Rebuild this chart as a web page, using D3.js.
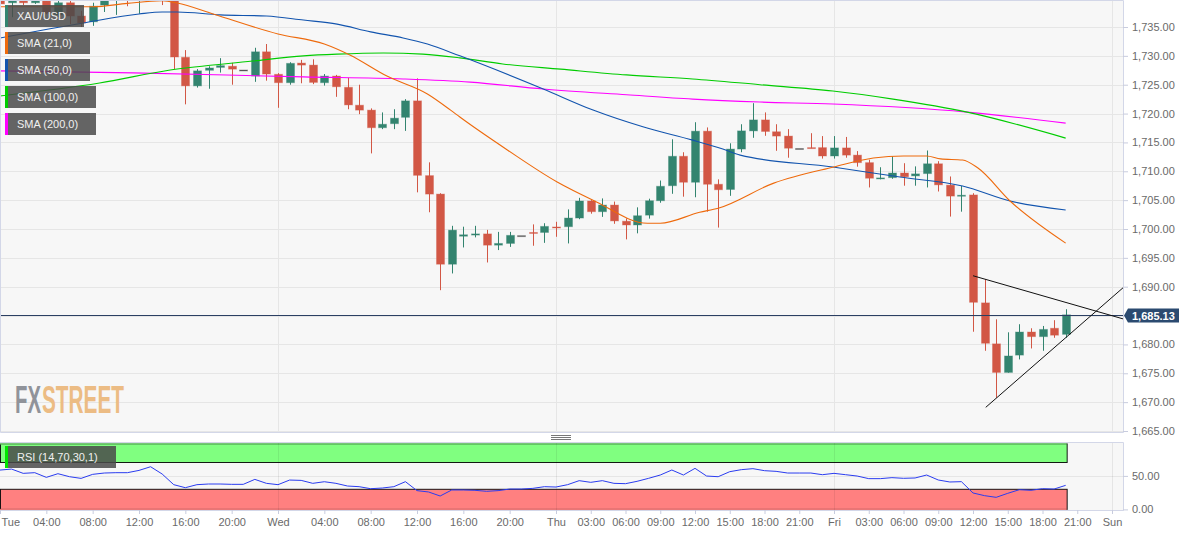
<!DOCTYPE html>
<html>
<head>
<meta charset="utf-8">
<script src="https://d3js.org/d3.v7.min.js"></script>
<style>
body { margin: 0; background: #fff; }
text { font-family: "Liberation Sans", Arial, sans-serif; font-size: 11px; }
</style>
</head>
<body>
<svg id="chart" width="1194" height="536"></svg>
<script>
// hourly candles, index 0 = Tue 00:00
var opens = [1739.7,1739.2,1739.7,1739.2,1739.5,1737.1,1739.2,1736.9,1735.9,1738.8,1739.9,1740.7,1740.0,1740.4,1740.7,1740.2,
	1729.75,1724.8,1727.5,1728.0,1728.2,1727.55,1726.5,1730.7,1726.8,1725.35,1728.75,1728.4,1725.35,1726.5,1724.55,1721.45,
	1720.6,1717.55,1718.25,1719.35,1722.2,1709.25,1706.05,1693.9,1698.75,1698.95,1699.15,1697.2,1697.5,1698.85,1699.4,1699.4,
	1700.35,1700.4,1701.9,1704.85,1703.0,1704.15,1701.35,1700.7,1702.4,1704.9,1707.5,1712.6,1708.1,1716.95,1707.75,1706.85,
	1713.85,1717.0,1718.9,1716.85,1716.1,1713.95,1714.1,1714.1,1712.65,1714.05,1712.8,1711.5,1708.7,1708.9,1709.7,1709.2,
	1709.6,1711.3,1707.6,1705.7,1705.9,1687.2,1680.1,1675.15,1678.15,1682.15,1681.35,1682.8,1681.75];
var highs = [1740.0,1740.0,1740.0,1739.9,1739.7,1739.5,1739.5,1737.8,1739.2,1740.2,1741.1,1741.1,1740.9,1741.0,1741.0,1740.5,
	1731.0,1727.7,1728.2,1729.6,1728.8,1727.55,1731.4,1732.05,1727.0,1728.9,1729.3,1729.4,1726.85,1726.7,1726.2,1725.0,
	1720.9,1720.2,1720.75,1722.5,1726.1,1711.55,1706.2,1700.55,1700.4,1700.55,1699.85,1699.5,1699.5,1698.85,1700.8,1701.0,
	1701.25,1703.4,1705.4,1705.0,1705.3,1704.75,1701.85,1703.75,1705.25,1708.4,1715.55,1713.3,1718.5,1717.6,1708.6,1714.85,
	1718.15,1721.8,1720.2,1718.15,1717.3,1713.95,1716.6,1716.1,1716.1,1715.95,1713.5,1712.0,1710.7,1712.6,1711.4,1710.85,
	1713.6,1711.75,1709.1,1707.45,1706.2,1691.3,1684.35,1682.1,1683.5,1682.8,1683.2,1684.2,1686.1];
var lows = [1738.3,1736.7,1738.8,1739.0,1737.2,1736.7,1735.5,1735.0,1735.2,1737.6,1737.1,1738.6,1737.3,1739.8,1738.8,1727.7,
	1721.6,1724.5,1724.3,1727.1,1725.0,1727.55,1725.5,1725.7,1721.0,1725.0,1725.25,1725.1,1724.85,1722.9,1720.75,1719.9,
	1713.1,1717.3,1717.3,1717.0,1706.35,1702.9,1689.4,1692.3,1696.8,1698.55,1694.2,1696.35,1696.9,1698.85,1697.1,1697.6,
	1698.65,1697.5,1701.7,1702.65,1702.1,1700.9,1698.2,1699.25,1701.8,1704.55,1706.1,1705.6,1705.5,1703.0,1700.25,1705.75,
	1713.3,1715.8,1716.15,1713.55,1712.35,1713.95,1714.0,1712.2,1712.2,1712.35,1710.8,1707.2,1708.6,1708.7,1707.5,1707.5,
	1707.2,1706.5,1702.15,1703.0,1682.2,1678.9,1670.75,1675.1,1677.4,1679.3,1678.9,1681.15,1681.15];
var closes = [1739.0,1739.7,1739.2,1739.5,1737.4,1739.2,1736.9,1735.7,1738.6,1739.9,1740.7,1740.0,1740.4,1740.7,1740.4,1729.8,
	1724.8,1727.4,1727.9,1728.3,1727.7,1727.55,1730.7,1726.85,1725.35,1728.7,1728.4,1725.4,1726.5,1724.65,1721.5,1720.6,
	1717.55,1718.15,1719.2,1722.2,1709.3,1706.05,1693.9,1699.8,1699.0,1699.15,1697.2,1697.5,1698.9,1698.85,1699.3,1700.45,
	1700.2,1701.9,1704.85,1703.0,1704.15,1701.4,1700.7,1702.3,1704.9,1707.4,1712.6,1708.1,1716.95,1707.75,1706.8,1713.85,
	1717.0,1718.9,1716.9,1716.1,1714.0,1713.95,1714.05,1712.65,1714.05,1712.8,1711.5,1708.8,1708.85,1709.7,1709.05,1709.55,
	1711.3,1707.65,1705.7,1705.85,1687.3,1680.2,1675.15,1678.0,1682.15,1681.35,1682.6,1681.6,1685.13];

// moving averages at the hours listed next to them
var sma21Hours = [0,8,11,14,15.3,18.4,24,28,30.2,33.4,36.9,38.9,39.7,43.8,48.1,51.2,55.9,57,60.4,62,66.8,72,75.4,78,80,81.2,83.1,84.4,87.2,92];
var sma21 = [1738.5,1738.5,1739.1,1739.55,1739.15,1737.25,1733.8,1732.05,1730.15,1726.5,1723.4,1720.6,1719.4,1713.7,1708.15,1705,1701,1701,1702.9,1703.6,1707.95,1710.75,1712.3,1712.65,1712.65,1712.15,1711.95,1710.6,1704.85,1697.55];
var sma50Hours = [0,7.2,12,14,15.3,19,23,26.2,29.1,32,34.8,36.9,39.7,46.9,51.2,55.5,59.8,62.4,63.9,71.9,77.7,83.1,87.2,92];
var sma50 = [1733.1,1735.7,1737.25,1737.6,1737.6,1737.1,1736.9,1736.2,1735.5,1734.15,1733.1,1732.05,1730,1724.25,1720.6,1717.7,1715.4,1713.85,1712.8,1710.75,1709,1707.45,1704.85,1703.3];
var sma100Hours = [0,8.6,14.7,21.8,26.2,29.1,33.1,36.5,39.7,43.4,48.4,54.1,59.8,65.6,71.9,77.1,83.5,92];
var sma100 = [1723.05,1725.3,1727.55,1729.1,1730,1730.3,1730.5,1730.3,1729.65,1728.6,1727.7,1726.7,1726,1725,1723.9,1722.5,1720.25,1715.75];
var sma200Hours = [0,11.5,26.2,34.8,40.6,46.9,54.1,59.8,65.6,71.9,83.5,92];
var sma200 = [1727.4,1727.05,1726.35,1726,1725.45,1724.25,1723.25,1722.5,1722,1721.65,1720.25,1718.35];

var rsi = [58.7,60.2,53.8,54.8,47.8,53.3,48.8,46.3,52.3,54.3,54.8,54.8,58.2,63.7,52.8,36.9,32.4,36.9,37.9,37.9,37.4,37.4,44.8,38.9,
	36.9,43.8,43.3,38.9,41.3,38.9,34.9,33.9,30.9,31.9,33.9,41.4,28,26,20,29,29,28.5,27,28,30.4,30.4,31.4,33.9,
	33.4,36.9,42.9,40.4,42.9,38.9,38.4,41.9,46.4,51.3,58.8,51.3,61.3,49.8,48.8,56.3,59.3,60.8,57.8,56.8,54.3,54.3,54.3,51.8,
	53.8,51.8,49.8,45.9,45.9,47.4,46.4,46.9,51.3,43.9,40.9,41.4,24.5,20.5,18,24,29.4,28.5,30.9,30.4,35.9];

// hand drawn trend lines
var trendHours = [[84, 97], [85.1, 97]];
var trendPrices = [[1691.9, 1684.4], [1669.1, 1689.9]];

var lastPrice = 1685.13;
var priceTicks = [1665,1670,1675,1680,1685,1690,1695,1700,1705,1710,1715,1720,1725,1730,1735];
var rsiTicks = [0, 50];
var timeTicks = [0,4,8,12,16,20,24,28,32,36,40,44,48,51,54,57,60,63,66,69,72,75,78,81,84,87,90,93,96];
var timeLabels = ["Tue","04:00","08:00","12:00","16:00","20:00","Wed","04:00","08:00","12:00","16:00","20:00","Thu","03:00","06:00","09:00","12:00","15:00","18:00","21:00","Fri","03:00","06:00","09:00","12:00","15:00","18:00","21:00","Sun"];
var dayTicks = [24, 48, 72, 96];

var legendLabels = ["XAU/USD", "SMA (21,0)", "SMA (50,0)", "SMA (100,0)", "SMA (200,0)"];
var legendColors = ["#33846f", "#ee6a0c", "#1254ae", "#00cc00", "#ff00ff"];
var legendWidths = [76, 82, 82, 88, 88];

var upColor = "#33846f", downColor = "#d25745", dojiColor = "#555";
var panelRight = 1123;

var svg = d3.select("#chart");

var x = d3.scaleLinear().domain([0, 96]).range([0, 1112]);
var y = d3.scaleLinear().domain([1665, 1735]).range([431, 27]);
var yRsi = d3.scaleLinear().domain([0, 100]).range([509.4, 442.4]);

// clip both panels so candles run off the top edge like the original
svg.append("clipPath").attr("id", "priceClip").append("rect")
	.attr("x", 0).attr("y", 1).attr("width", panelRight).attr("height", 431);

// panel backgrounds
svg.append("rect").attr("x", 0).attr("y", 0).attr("width", panelRight).attr("height", 432).attr("fill", "#f7f7f7");
svg.append("rect").attr("x", 0).attr("y", 442).attr("width", panelRight).attr("height", 68).attr("fill", "#f7f7f7");

// price grid
var grid = svg.append("g").attr("stroke", "#e6e6e6");
grid.selectAll(".h").data(priceTicks).join("line")
	.attr("x1", 0).attr("x2", panelRight)
	.attr("y1", function(d) { return Math.round(y(d)) + 0.5; })
	.attr("y2", function(d) { return Math.round(y(d)) + 0.5; });
grid.selectAll(".v").data(dayTicks).join("line")
	.attr("x1", function(d) { return Math.round(x(d)) + 0.5; })
	.attr("x2", function(d) { return Math.round(x(d)) + 0.5; })
	.attr("y1", 0).attr("y2", 432);

// watermark, squeezed horizontally like the condensed logo
svg.append("text").attr("transform", "translate(15,413) scale(0.535,1)")
	.style("font-size", "38px").style("font-weight", "bold").attr("fill", "#90939a").text("FX");
svg.append("text").attr("transform", "translate(42,413) scale(0.547,1)")
	.style("font-size", "38px").style("font-weight", "bold").attr("fill", "#ecbc84").text("STREET");

// candles
function candleColor(i) {
	if (closes[i] > opens[i]) return upColor;
	if (closes[i] < opens[i]) return downColor;
	return dojiColor;
}
var plot = svg.append("g").attr("clip-path", "url(#priceClip)");
var candles = plot.append("g").selectAll("g").data(opens).join("g");
candles.append("line")
	.attr("x1", function(d, i) { return Math.round(x(i)) + 0.5; })
	.attr("x2", function(d, i) { return Math.round(x(i)) + 0.5; })
	.attr("y1", function(d, i) { return y(highs[i]); })
	.attr("y2", function(d, i) { return y(lows[i]); })
	.attr("stroke", function(d, i) { return candleColor(i); });
candles.append("rect")
	.attr("x", function(d, i) { return Math.round(x(i)) - 3.5; })
	.attr("width", 8)
	.attr("y", function(d, i) { return y(Math.max(opens[i], closes[i])); })
	.attr("height", function(d, i) { return Math.max(1, Math.abs(y(opens[i]) - y(closes[i]))); })
	.attr("fill", function(d, i) { return candleColor(i); })
	.attr("stroke", function(d, i) { return candleColor(i); })
	.attr("stroke-opacity", 0.35);

// moving averages
var smaLine = d3.line()
	.curve(d3.curveMonotoneX)
	.x(function(d) { return x(d[0]); })
	.y(function(d) { return y(d[1]); });
var smaSeries = [[sma200Hours, sma200, "#ff00ff"], [sma100Hours, sma100, "#00cc00"], [sma50Hours, sma50, "#1254ae"], [sma21Hours, sma21, "#ee6a0c"]];
smaSeries.forEach(function(s) {
	plot.append("path")
		.attr("d", smaLine(d3.zip(s[0], s[1])))
		.attr("fill", "none").attr("stroke", s[2]).attr("stroke-width", 1.1);
});

// last price line
plot.append("line").attr("x1", 0).attr("x2", panelRight)
	.attr("y1", Math.round(y(lastPrice)) + 0.5).attr("y2", Math.round(y(lastPrice)) + 0.5)
	.attr("stroke", "#2b3f63");

// trend lines
trendHours.forEach(function(h, i) {
	plot.append("line")
		.attr("x1", x(h[0])).attr("x2", x(h[1]))
		.attr("y1", y(trendPrices[i][0])).attr("y2", y(trendPrices[i][1]))
		.attr("stroke", "#111");
});

// RSI panel: bands then line
var rsiRight = x(92) + 1;
svg.append("rect").attr("x", 0.5).attr("y", yRsi(100) + 1.5).attr("width", rsiRight).attr("height", yRsi(70) - yRsi(100) - 1.5)
	.attr("fill", "#80ff80").attr("stroke", "#000").attr("stroke-opacity", 0.9);
svg.append("rect").attr("x", 0.5).attr("y", yRsi(30)).attr("width", rsiRight).attr("height", yRsi(0) - yRsi(30))
	.attr("fill", "#ff8080").attr("stroke", "#000").attr("stroke-opacity", 0.9);
// band outlines only show at the inner edges
svg.append("line").attr("x1", 0).attr("x2", rsiRight).attr("y1", yRsi(100) + 1.5).attr("y2", yRsi(100) + 1.5).attr("stroke", "#80ff80");
svg.append("line").attr("x1", 0).attr("x2", rsiRight).attr("y1", yRsi(0)).attr("y2", yRsi(0)).attr("stroke", "#ff8080");
svg.append("line").attr("x1", 0).attr("x2", panelRight)
	.attr("y1", Math.round(yRsi(50)) + 0.5).attr("y2", Math.round(yRsi(50)) + 0.5).attr("stroke", "#e6e6e6");
svg.append("g").selectAll("line").data(dayTicks).join("line")
	.attr("x1", function(d) { return Math.round(x(d)) + 0.5; })
	.attr("x2", function(d) { return Math.round(x(d)) + 0.5; })
	.attr("y1", 442).attr("y2", 510)
	.attr("stroke", "#000").attr("stroke-opacity", 0.07);
svg.append("path")
	.attr("d", d3.line().x(function(d, i) { return x(i); }).y(function(d) { return yRsi(d); })(rsi))
	.attr("fill", "none").attr("stroke", "#2a3cf0").attr("stroke-width", 1);

// panel borders
var border = svg.append("g").attr("stroke", "#d3d7e8").attr("fill", "none");
border.append("path").attr("d", "M0.5,432.5V0.5H" + (panelRight + 0.5) + "V432.5H0.5");
border.append("path").attr("d", "M0,442.5H" + (panelRight + 0.5) + "V510.5H0");

// resize handle between the panels
svg.append("g").attr("stroke", "#777").selectAll("line").data([435.5, 437.5, 439.5]).join("line")
	.attr("x1", 551).attr("x2", 571)
	.attr("y1", function(d) { return d; }).attr("y2", function(d) { return d; });

// axes
function styleAxis(g) {
	g.select(".domain").remove();
	g.selectAll("line").attr("stroke", "#c8ccde");
	g.selectAll("text").attr("fill", "#6a6a6a").style("font-size", "11px");
}
svg.append("g").attr("transform", "translate(" + panelRight + ",0)")
	.call(d3.axisRight(y).tickValues(priceTicks).tickFormat(d3.format(",.2f")).tickSize(5).tickPadding(4))
	.call(styleAxis);
svg.append("g").attr("transform", "translate(" + panelRight + ",0)")
	.call(d3.axisRight(yRsi).tickValues(rsiTicks).tickFormat(d3.format(".2f")).tickSize(5).tickPadding(4))
	.call(styleAxis);
var xAxis = svg.append("g").attr("transform", "translate(0,510)")
	.call(d3.axisBottom(x).tickValues(timeTicks).tickFormat(function(d, i) { return timeLabels[i]; }).tickSize(4).tickPadding(4))
	.call(styleAxis);
// first label would be cut by the edge
xAxis.selectAll("text").filter(function(d) { return d === 0; }).attr("text-anchor", "start").attr("x", 1);

// last price tag
var tag = svg.append("g");
var tagY = Math.round(y(lastPrice)) + 0.5;
tag.append("path")
	.attr("d", "M1124," + tagY + "L1128," + (tagY - 7) + "H1179V" + (tagY + 7) + "H1128Z")
	.attr("fill", "#2b4a70");
tag.append("text").attr("x", 1132).attr("y", tagY + 4).attr("fill", "#fff").style("font-weight", "bold").text(d3.format(",.2f")(lastPrice));

// legend boxes, drawn last since they sit over the candles
var legend = svg.append("g");
var rows = legend.selectAll("g").data(legendLabels).join("g")
	.attr("transform", function(d, i) { return "translate(5," + (5 + i * 27) + ")"; });
rows.append("rect").attr("x", 3).attr("width", function(d, i) { return legendWidths[i]; }).attr("height", 22)
	.attr("fill", "#4a4a4a").attr("fill-opacity", 0.85);
rows.append("rect").attr("width", 3).attr("height", 22).attr("fill", function(d, i) { return legendColors[i]; });
rows.append("text").attr("x", 12).attr("y", 15).attr("fill", "#f0f0f0").text(function(d) { return d; });

var rsiLegend = svg.append("g").attr("transform", "translate(5,446)");
rsiLegend.append("rect").attr("x", 3).attr("width", 108).attr("height", 22).attr("fill", "#4a4a4a").attr("fill-opacity", 0.85);
rsiLegend.append("rect").attr("width", 3).attr("height", 22).attr("fill", "#00e600");
rsiLegend.append("text").attr("x", 12).attr("y", 15).attr("fill", "#f0f0f0").text("RSI (14,70,30,1)");
</script>
</body>
</html>
